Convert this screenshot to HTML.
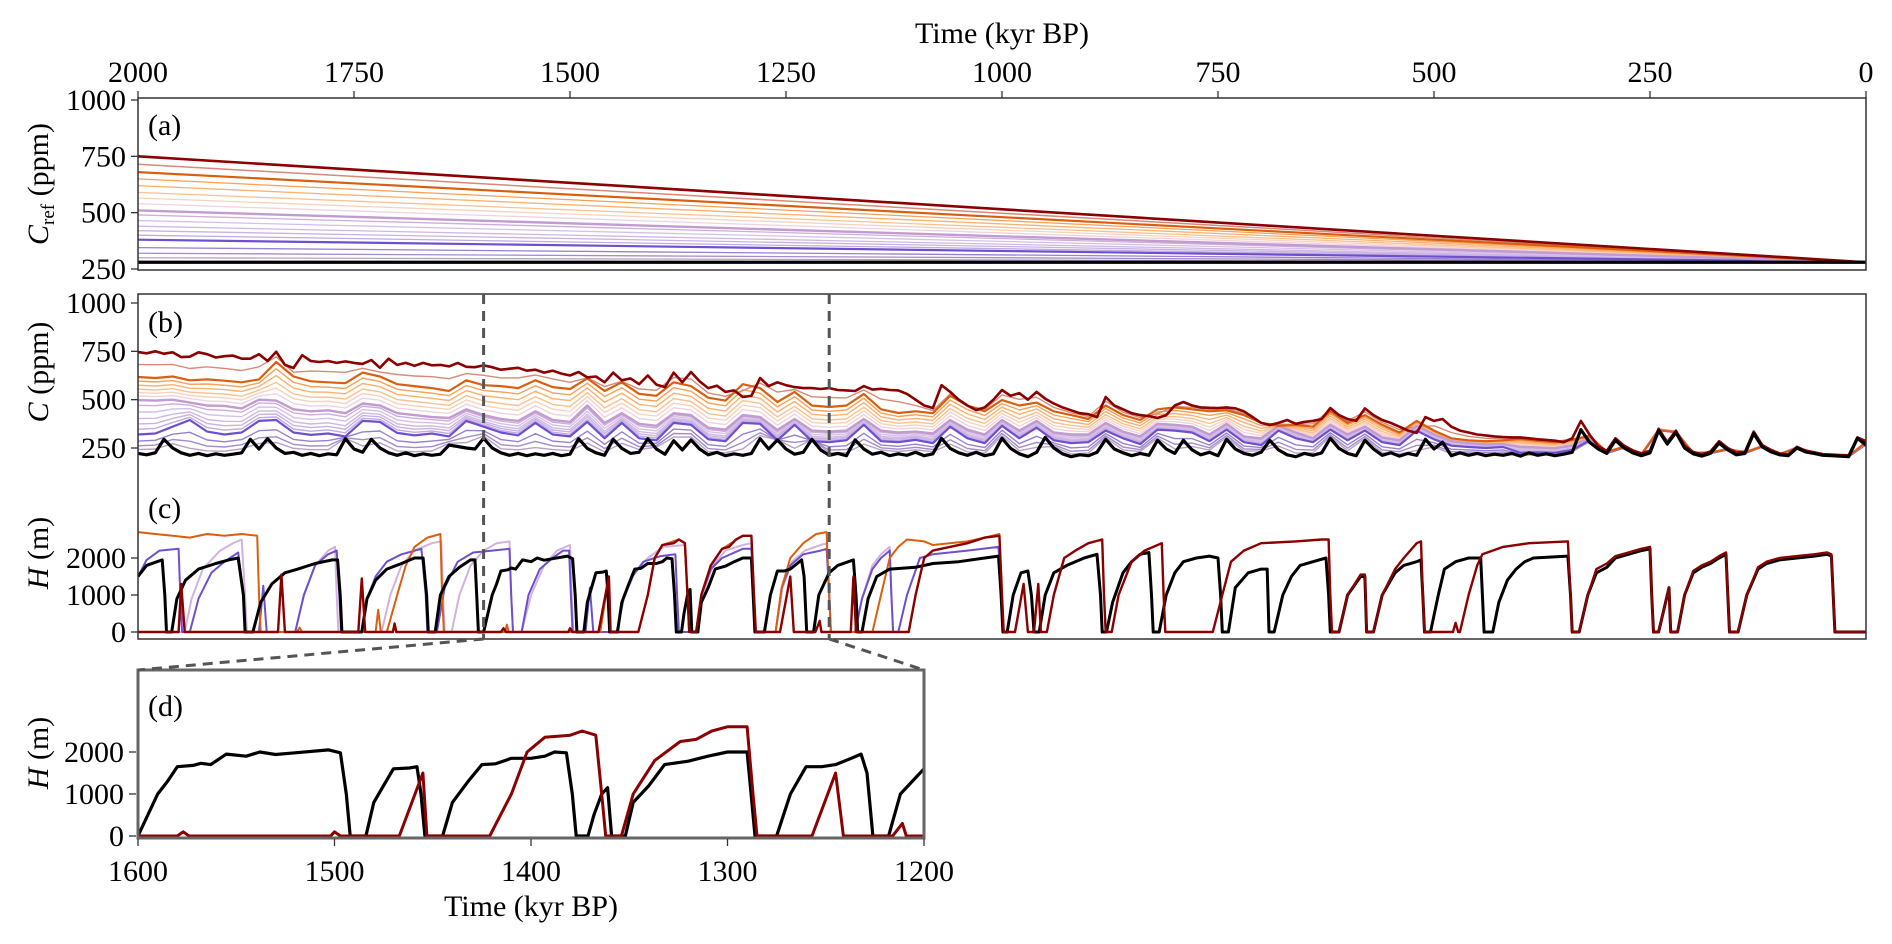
<!DOCTYPE html>
<html><head><meta charset="utf-8"><style>
html,body{margin:0;padding:0;background:#fff;}
svg{display:block;font-family:"Liberation Serif",serif;}
</style></head><body>
<svg id="fig" width="1892" height="944" viewBox="0 0 1892 944">
<defs>
<clipPath id="clipA"><rect x="138" y="98" width="1728" height="172"/></clipPath>
<clipPath id="clipBC"><rect x="138" y="294" width="1728" height="345"/></clipPath>
<clipPath id="clipD"><rect x="138" y="670" width="786" height="168"/></clipPath>
</defs>
<text x="1002" y="43" font-size="30" text-anchor="middle">Time (kyr BP)</text>
<g id="topTicks"></g>
<g id="panelA"></g>
<g id="panelBC"></g>
<g id="panelD"></g>
<g id="overlay"></g>
<text x="148" y="135" font-size="30">(a)</text>
<text x="148" y="332" font-size="30">(b)</text>
<text x="148" y="518" font-size="30">(c)</text>
<text x="148" y="716" font-size="30">(d)</text>
<text transform="translate(48,184) rotate(-90)" font-size="30" text-anchor="middle"><tspan font-style="italic">C</tspan><tspan font-size="19" dy="6">ref</tspan><tspan dy="-6"> (ppm)</tspan></text>
<text transform="translate(48,372) rotate(-90)" font-size="30" text-anchor="middle"><tspan font-style="italic">C</tspan> (ppm)</text>
<text transform="translate(48,553) rotate(-90)" font-size="30" text-anchor="middle"><tspan font-style="italic">H</tspan> (m)</text>
<text transform="translate(48,753) rotate(-90)" font-size="30" text-anchor="middle"><tspan font-style="italic">H</tspan> (m)</text>
<text x="531" y="916" font-size="30" text-anchor="middle">Time (kyr BP)</text>
</svg>
<script>
// ---------- DATA ----------
const topTickLabels = [2000,1750,1500,1250,1000,750,500,250,0];
const bYTicks = [1000,750,500,250];
const aYTicks = [1000,750,500,250];
const cYTicks = [2000,1000,0];
const dXTicks = [1600,1500,1400,1300,1200];
const dYTicks = [2000,1000,0];
const zoomRange = [1600,1200];

const aStart = [280,300,320,345,380,400,420,440,465,490,510,540,565,590,620,650,680,715,750];
const aEnd = 280;
const runColors = ['#000000','#b6a2c6','#a48cca','#9a80d0','#6e4fd0','#c2aae2','#c9b2e2','#cfb7e4','#d6c0e8','#cdaed8','#c29bd0','#efd3e0','#f8d2bc','#fbc08e','#fdb070','#f8a055','#d95f0e','#d68a78','#8b0000'];
const runWidths = [3.2,1.3,1.3,1.3,2.2,1.3,1.3,1.3,1.3,1.3,2.4,1.3,1.3,1.3,1.3,1.3,2.2,1.5,2.6];

const bBlack = [
222,215,225,295,250,225,212,222,210,220,
212,218,225,295,245,298,250,222,228,212,
222,210,220,215,298,245,228,295,250,225,
212,225,210,220,212,218,265,258,250,245,
300,250,225,212,222,210,220,212,222,210,
218,298,248,225,212,295,248,222,228,298,
245,218,288,240,292,245,215,228,210,220,
212,222,298,245,292,245,218,228,295,240,
212,222,210,292,245,218,228,210,220,212,
228,210,220,300,248,225,212,228,210,220,
300,248,220,205,228,305,250,220,205,215,
210,228,295,245,225,210,222,212,290,245,
222,290,240,215,228,210,295,245,222,212,
228,290,240,215,205,222,212,225,300,248,
222,210,290,245,212,225,208,222,212,295,
245,280,210,225,212,222,210,218,212,222,
208,225,212,220,210,218,228,345,280,245,
222,290,250,225,210,225,340,270,330,250,
220,208,222,275,240,215,222,325,255,230,
215,210,250,230,222,212,210,208,205,300,
265];
const bRed = [
746,740,750,738,745,720,722,745,735,718,
725,728,712,712,735,700,748,680,664,730,
700,695,700,690,698,690,685,705,665,712,
680,690,675,690,678,680,672,690,670,668,
677,668,655,660,665,650,655,640,650,635,
625,643,615,620,590,640,600,610,580,625,
578,565,640,590,643,595,560,572,540,548,
514,520,612,570,590,575,565,560,560,555,
560,550,548,545,570,552,556,550,548,530,
500,470,457,575,540,500,470,446,460,500,
550,520,534,500,540,505,480,460,445,430,
425,410,514,470,450,430,420,415,405,420,
470,488,470,460,458,457,460,455,440,410,
380,369,380,395,375,385,390,400,457,420,
400,390,455,420,395,380,360,340,328,410,
390,400,360,340,330,320,315,310,307,305,
305,300,295,292,288,280,300,390,320,260,
235,300,262,238,222,236,350,280,340,262,
230,218,232,285,250,225,232,335,265,240,
222,216,256,236,228,218,216,214,212,305,
285];
const bPurple = [
320,325,360,395,335,320,330,390,395,330,
318,325,310,390,385,328,315,325,310,390,
360,330,315,380,320,310,385,300,380,300,
290,380,370,295,285,380,375,290,370,285,
280,290,370,285,280,292,275,360,300,275,
365,300,355,290,275,280,340,300,270,345,
340,330,285,345,280,265,340,300,280,345,
290,340,280,265,340,295,262,255,250,255,
225,228,225,240,290,224,252,212,342,332,
222,224,242,224,257,216,251,224,213,206,
270];
const bLilac = [
498,495,500,485,470,468,455,500,495,450,
440,445,430,480,470,430,420,410,405,450,
420,400,390,440,395,385,470,380,430,375,
365,430,420,355,345,420,410,343,400,340,
335,340,400,340,330,335,325,395,345,320,
395,340,390,330,320,320,380,335,310,375,
370,360,320,375,310,300,365,330,300,370,
320,360,305,290,365,320,285,275,268,270,
256,253,249,264,300,228,256,216,345,335,
225,227,245,227,260,218,253,225,213,208,
275];
const bOrange = [
617,612,620,600,605,598,590,605,695,620,
595,590,585,640,620,580,570,560,545,600,
575,570,560,600,565,555,610,545,590,530,
520,590,570,510,495,580,560,488,540,470,
462,470,530,450,431,440,430,520,470,440,
498,470,485,440,420,400,470,420,395,450,
460,450,440,445,420,380,365,370,360,440,
380,420,370,330,390,340,300,290,285,290,
297,287,280,292,312,230,256,218,342,332,
224,226,244,228,258,218,250,222,212,208,
280];

const hBlack = [2000,1500,1990,1800,1978,1900,1972,1950,1969,1000,1967,0,1961,0,1955,900,1945,1400,1930,1700,1910,1850,1895,1950,1884,2000,1878,1000,1876,0,1867,0,1858,800,1845,1300,1830,1600,1815,1700,1795,1850,1775,1950,1769,1950,1766,1000,1764,0,1741,0,1735,900,1725,1400,1712,1700,1695,1850,1680,2000,1670,2000,1666,1000,1664,0,1656,0,1650,1000,1640,1500,1628,1750,1615,1950,1610,1950,1608,1000,1606,0,1600,0,1595,500,1590,1000,1585,1300,1580,1650,1572,1680,1568,1730,1563,1700,1555,1950,1545,1900,1538,2000,1530,1940,1520,1980,1503,2050,1497,1980,1494,1000,1492,0,1484,0,1480,800,1475,1200,1470,1600,1462,1620,1458,1650,1456,1000,1454,0,1445,0,1440,800,1432,1300,1425,1700,1418,1720,1410,1850,1400,1850,1393,1900,1388,2000,1382,1980,1379,1000,1377,0,1371,0,1368,500,1364,1000,1361,1150,1359,0,1352,0,1348,800,1340,1200,1332,1700,1320,1780,1310,1900,1300,2000,1290,2000,1288,1000,1286,0,1275,0,1268,1000,1260,1650,1252,1650,1245,1700,1237,1850,1232,1950,1229,1500,1226,0,1218,0,1212,1000,1200,1600,1190,1800,1172,1950,1169,1000,1167,0,1162,0,1155,900,1145,1500,1130,1700,1100,1750,1080,1850,1050,1900,1020,2000,1004,2050,1001,1000,999,0,994,0,987,1000,978,1600,970,1650,966,1000,963,0,957,0,950,1000,940,1600,925,1800,905,2000,890,2100,886,1000,884,0,879,0,872,800,860,1600,850,1900,840,2100,830,2150,827,1000,825,0,818,0,810,1000,800,1600,790,1900,775,2000,760,2050,750,2000,747,1000,745,0,738,0,730,1200,715,1600,700,1700,693,1700,691,0,685,0,675,1000,665,1500,655,1800,640,1900,625,2000,622,1000,620,0,610,0,600,1000,585,1500,580,1500,578,0,570,0,560,1000,545,1600,535,1800,520,1900,515,1950,513,1000,511,0,504,0,495,1000,488,1700,475,1900,460,2000,446,2000,444,1000,442,0,432,0,425,800,415,1400,405,1700,395,1900,385,2000,345,2050,342,1000,340,0,332,0,322,1000,312,1600,300,1750,290,2000,275,2100,260,2200,250,2250,248,1000,246,0,240,0,233,700,228,1200,226,0,218,0,210,1000,200,1600,190,1750,180,1850,170,2000,162,2100,160,1000,158,0,148,0,138,1000,125,1700,115,1850,100,1950,80,2000,60,2050,45,2100,40,2050,38,1000,36,0,0,0];
const hRed = [2000,0,1953,0,1950,1300,1946,0,1838,0,1834,1550,1830,0,1745,0,1741,1450,1737,0,1705,0,1703,230,1701,0,1580,0,1577,100,1574,0,1502,0,1500,100,1497,0,1467,0,1455,1500,1453,0,1421,0,1410,1000,1402,2000,1393,2350,1380,2400,1374,2500,1367,2400,1364,1000,1362,0,1354,0,1348,1000,1337,1800,1324,2250,1316,2300,1308,2500,1300,2600,1290,2600,1287,1000,1285,0,1257,0,1245,1500,1241,0,1216,0,1211,300,1209,0,1175,0,1172,1500,1169,0,1108,0,1100,1000,1090,2000,1080,2200,1040,2400,1020,2550,1003,2600,1000,1000,998,0,985,0,975,1300,970,0,963,0,958,1300,955,0,948,0,940,1000,928,2000,915,2200,900,2400,884,2500,882,1000,880,0,873,0,865,1000,850,1900,835,2200,815,2400,813,1000,811,0,756,0,745,1000,735,1900,720,2200,700,2400,660,2450,630,2500,622,2500,620,1000,618,0,610,0,600,1000,585,1550,580,1550,578,0,570,0,560,1000,545,1700,535,2000,520,2400,515,2450,513,1000,511,0,478,0,475,250,472,0,470,0,460,1000,450,1800,444,2100,420,2300,390,2400,345,2450,342,1000,340,0,332,0,322,1000,312,1700,300,1850,290,2050,275,2150,260,2250,250,2300,248,1000,246,0,240,0,233,700,228,1200,226,0,218,0,210,1000,200,1650,190,1800,180,1900,170,2050,162,2150,160,1000,158,0,148,0,138,1000,125,1750,115,1900,100,2000,80,2050,60,2100,45,2150,40,2100,38,1000,36,0,0,0];
const hPurple = [2000,1500,1990,1950,1975,2200,1953,2250,1951,1000,1949,0,1940,0,1930,900,1915,1600,1900,1900,1884,2150,1878,1000,1876,0,1860,0,1855,1250,1851,0,1818,0,1808,1000,1795,1800,1780,2100,1770,2200,1767,1000,1765,0,1741,0,1735,900,1725,1500,1712,1900,1695,2100,1672,2250,1667,1000,1665,0,1654,0,1645,1200,1630,1900,1612,2150,1590,2200,1570,2250,1568,1000,1566,0,1556,0,1548,1000,1535,1700,1520,2000,1508,2200,1501,2200,1499,1000,1497,0,1482,0,1477,1200,1473,0,1446,0,1438,900,1428,1500,1415,1900,1395,2050,1378,2100,1376,1000,1374,0,1354,0,1348,1000,1337,1700,1324,2000,1300,2250,1290,2250,1287,1000,1285,0,1262,0,1255,1200,1245,1800,1230,2100,1210,2200,1203,2250,1200,1000,1198,0,1170,0,1162,900,1150,1700,1140,2000,1130,2200,1128,1000,1126,0,1120,0,1110,1000,1095,2000,1080,2100,1040,2200,1004,2300,1001,1000,999,0];
const hLilac = [2000,0,1946,0,1938,900,1925,1700,1905,2200,1890,2400,1880,2500,1876,1000,1874,0,1818,0,1808,1000,1795,1800,1780,2200,1772,2300,1770,1000,1768,0,1718,0,1708,1000,1695,1800,1680,2200,1660,2400,1649,2450,1647,1000,1645,0,1637,0,1628,1000,1615,1800,1600,2200,1585,2400,1570,2450,1568,1000,1566,0,1556,0,1545,1000,1530,1800,1515,2200,1500,2350,1498,1000,1496,0,1446,0,1438,900,1425,1600,1410,2000,1392,2300,1367,2350,1364,1000,1362,0,1354,0,1346,1000,1335,1800,1320,2200,1300,2350,1290,2400,1287,1000,1285,0,1262,0,1254,1200,1243,1900,1228,2200,1210,2350,1203,2400,1200,1000,1198,0,1170,0,1162,900,1150,1800,1140,2100,1130,2300,1128,1000,1126,0];
const hOrange = [2000,2700,1980,2650,1960,2600,1940,2550,1920,2650,1900,2600,1880,2650,1862,2600,1860,1000,1858,0,1816,0,1813,120,1810,0,1725,0,1722,600,1719,0,1712,0,1700,1000,1690,1800,1680,2300,1665,2550,1650,2650,1648,1000,1646,0,1575,0,1573,200,1571,0,1465,0,1455,1500,1453,0,1421,0,1410,1000,1402,2000,1393,2350,1374,2500,1367,2400,1364,1000,1362,0,1354,0,1348,1000,1337,1800,1324,2250,1300,2600,1290,2600,1287,1000,1285,0,1262,0,1255,1200,1245,2000,1230,2400,1215,2650,1203,2700,1200,1000,1198,0,1150,0,1140,1000,1130,2000,1120,2300,1110,2500,1090,2450,1080,2350,1040,2450,1020,2550,1003,2650,1000,1000,998,0];

// ---------- SCALES ----------
function xMain(t){return 138+(2000-t)/2000*1728;}
function yA(v){return 269-(v-250)*169/750;}
function yB(v){return 448-(v-250)*145/750;}
function yC(h){return 632-h*0.037;}
function xD(t){return 138+(zoomRange[0]-t)*786/(zoomRange[0]-zoomRange[1]);}
function yD(h){return 836-h*0.042;}

const NS='http://www.w3.org/2000/svg';
function mk(tag,attrs,parent){const e=document.createElementNS(NS,tag);for(const k in attrs)e.setAttribute(k,attrs[k]);parent.appendChild(e);return e;}
function pathFromSeries(vals,step,xs,ys){let d='';for(let i=0;i<vals.length;i++){const t=2000-i*step;d+=(i?'L':'M')+xs(t).toFixed(1)+','+ys(vals[i]).toFixed(1);}return d;}
function pathFromPairs(arr,xs,ys){let d='';for(let i=0;i<arr.length;i+=2){d+=(i?'L':'M')+xs(arr[i]).toFixed(1)+','+ys(arr[i+1]).toFixed(1);}return d;}

const topG=document.getElementById('topTicks');
const A=document.getElementById('panelA');
const BC=document.getElementById('panelBC');
const D=document.getElementById('panelD');
const OV=document.getElementById('overlay');

topTickLabels.forEach(v=>{
  const x=xMain(v);
  const tk=mk('line',{x1:x,y1:98,x2:x,y2:91,stroke:'#333','stroke-width':1.3},topG);
  
  
  const tx=mk('text',{x:x,y:82,'font-size':30,'text-anchor':'middle'},topG);
  tx.textContent=v;
  
  
});

function yTicks(g,vals,ys,x0){
  vals.forEach(v=>{
    const y=ys(v);
    const tk=mk('line',{x1:x0,y1:y,x2:x0-7,y2:y,stroke:'#333','stroke-width':1.3},g);
    
    
    const tx=mk('text',{x:x0-12,y:y+10,'font-size':30,'text-anchor':'end'},g);
    tx.textContent=v;
    
    
  });
}

const aLines=mk('g',{'clip-path':'url(#clipA)'},A);


const aOrder=[1,2,3,5,6,7,8,9,11,12,13,14,15,17,4,10,16,18,0];
aOrder.forEach(i=>{
  const ln=mk('line',{x1:xMain(2000),y1:yA(aStart[i]),x2:xMain(0),y2:yA(aEnd),stroke:runColors[i],'stroke-width':runWidths[i]},aLines);
  
  
});
const aBox=mk('rect',{x:138,y:98,width:1728,height:172,fill:'none',stroke:'#333','stroke-width':1.5},A);


yTicks(A,aYTicks,yA,138);

const bG=mk('g',{'clip-path':'url(#clipBC)',fill:'none','stroke-linejoin':'round'},BC);


const mains={280:null,380:bPurple,510:bLilac,680:bOrange,750:null};
function main20(level,i){
  if(level===280) return bBlack[2*i];
  if(level===750) return bRed[2*i];
  return mains[level][i];
}
const mainLevels=[280,380,510,680,750];
aStart.forEach((lv,idx)=>{
  if(mainLevels.indexOf(lv)>=0) return;
  let lo=280,hi=750;
  mainLevels.forEach(m=>{if(m<lv&&m>lo)lo=m;if(m>lv&&m<hi)hi=m;});
  const w=(lv-lo)/(hi-lo);
  let d='';
  for(let i=0;i<bPurple.length;i++){
    const v=main20(lo,i)*(1-w)+main20(hi,i)*w;
    d+=(i?'L':'M')+xMain(2000-20*i).toFixed(1)+','+yB(v).toFixed(1);
  }
  const p=mk('path',{d:d,stroke:runColors[idx],'stroke-width':1.4},bG);
  
  
});
[[bPurple,20,4],[bLilac,20,10],[bOrange,20,16],[bRed,10,18],[bBlack,10,0]].forEach(s=>{
  const p=mk('path',{d:pathFromSeries(s[0],s[1],xMain,yB),stroke:runColors[s[2]],'stroke-width':runWidths[s[2]]},bG);
  
  
});

const cG=mk('g',{'clip-path':'url(#clipBC)',fill:'none','stroke-linejoin':'round'},BC);


const cSeries=[[hLilac,'#d2b2de',2,'ice-line-lilac'],[hPurple,'#6e4fd0',2,'ice-line-purple'],[hOrange,'#d95f0e',2,'ice-line-orange'],[hBlack,'#000',3,'ice-line-black'],[hRed,'#8b0000',2.4,'ice-line-red']];
cSeries.forEach(s=>{
  const p=mk('path',{d:pathFromPairs(s[0],xMain,yC),stroke:s[1],'stroke-width':s[2]},cG);
  
  
});
const bcBox=mk('rect',{x:138,y:294,width:1728,height:345,fill:'none',stroke:'#333','stroke-width':1.5},BC);


yTicks(BC,bYTicks,yB,138);
yTicks(BC,cYTicks,yC,138);

const dG=mk('g',{'clip-path':'url(#clipD)',fill:'none','stroke-linejoin':'round'},D);


[[hBlack,'#000',3.2,'zoom-line-black'],[hRed,'#8b0000',3,'zoom-line-red']].forEach(s=>{
  const p=mk('path',{d:pathFromPairs(s[0],xD,yD),stroke:s[1],'stroke-width':s[2]},dG);
  
  
});
const dBox=mk('rect',{x:138,y:670,width:786,height:168,fill:'none',stroke:'#666','stroke-width':3},D);


yTicks(D,dYTicks,yD,136);
dXTicks.forEach(v=>{
  const x=xD(v);
  const tk=mk('line',{x1:x,y1:839,x2:x,y2:846,stroke:'#333','stroke-width':1.3},D);
  
  
  const tx=mk('text',{x:x,y:881,'font-size':30,'text-anchor':'middle'},D);
  tx.textContent=v;
  
  
});

const gx1=xMain(zoomRange[0]), gx2=xMain(zoomRange[1]);
[[gx1,294,gx1,639],[gx2,294,gx2,639],[gx1,639,138,670],[gx2,639,924,670]].forEach(c=>{
  const l=mk('line',{x1:c[0],y1:c[1],x2:c[2],y2:c[3],stroke:'#555','stroke-width':3,'stroke-dasharray':'10,7'},OV);
  
  
});
</script>
</body></html>
